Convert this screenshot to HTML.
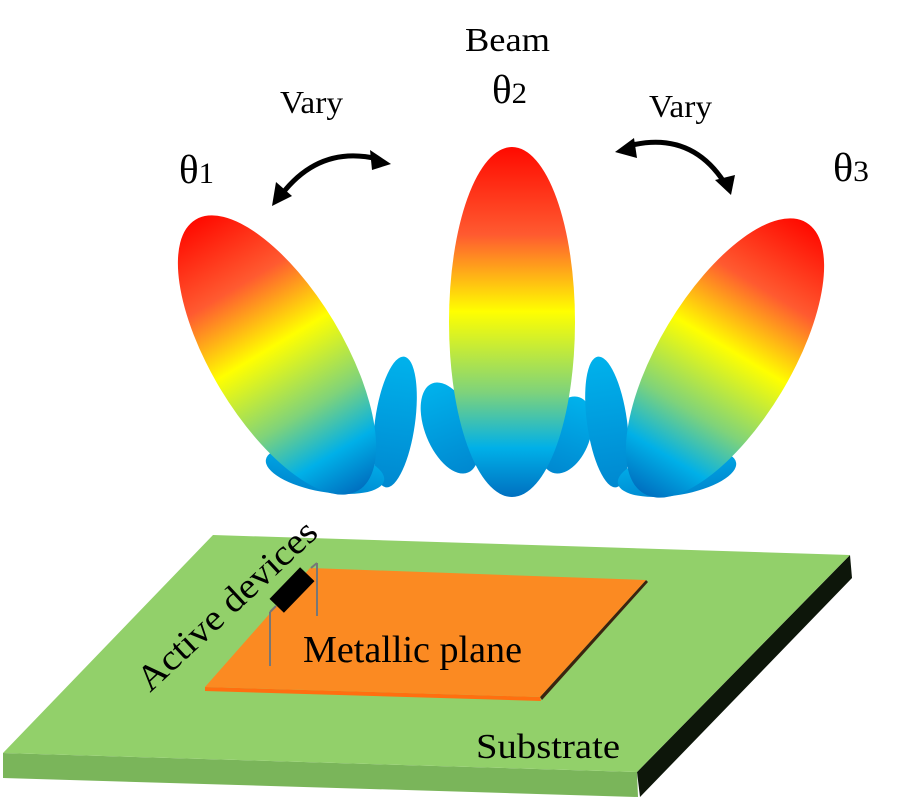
<!DOCTYPE html>
<html><head><meta charset="utf-8"><style>
html,body{margin:0;padding:0;background:#fff}
svg{display:block}
text{font-family:"Liberation Serif",serif;fill:#000}
</style></head><body>
<svg width="900" height="800" viewBox="0 0 900 800" xmlns="http://www.w3.org/2000/svg">
<defs>
<linearGradient id="lobe" x1="0" y1="0" x2="0" y2="1">
<stop offset="0" stop-color="#ff0a00"/>
<stop offset="0.25" stop-color="#ff5a30"/>
<stop offset="0.47" stop-color="#ffff00"/>
<stop offset="0.7" stop-color="#7fd37a"/>
<stop offset="0.86" stop-color="#00b0e8"/>
<stop offset="1" stop-color="#0070c0"/>
</linearGradient>
<linearGradient id="side" x1="0" y1="0" x2="0" y2="1">
<stop offset="0" stop-color="#00b2ec"/>
<stop offset="1" stop-color="#0088d0"/>
</linearGradient>
</defs>

<!-- Left beam -->
<ellipse cx="395" cy="422" rx="20" ry="66" transform="rotate(8 395 422)" fill="url(#side)"/>
<ellipse cx="325" cy="470" rx="60" ry="22" transform="rotate(10 325 470)" fill="url(#side)"/>
<ellipse cx="277" cy="355" rx="66" ry="158" transform="rotate(-31 277 355)" fill="url(#lobe)"/>

<!-- Center beam -->
<ellipse cx="450" cy="428" rx="25" ry="48" transform="rotate(-22 450 428)" fill="url(#side)"/>
<ellipse cx="566" cy="435" rx="24" ry="40" transform="rotate(20 566 435)" fill="url(#side)"/>
<ellipse cx="512" cy="322" rx="63" ry="175" fill="url(#lobe)"/>

<!-- Right beam -->
<ellipse cx="607" cy="422" rx="20" ry="66" transform="rotate(-8 607 422)" fill="url(#side)"/>
<ellipse cx="677" cy="473" rx="60" ry="22" transform="rotate(-10 677 473)" fill="url(#side)"/>
<ellipse cx="725" cy="358" rx="66" ry="158" transform="rotate(31 725 358)" fill="url(#lobe)"/>

<!-- arrows -->
<path d="M282 194 Q320 145 378 159" fill="none" stroke="#000" stroke-width="5"/>
<polygon points="272,206 276,182 292,196" fill="#000"/>
<polygon points="391,164 370,150 372,170" fill="#000"/>
<path d="M628 146 Q690 130 724 182" fill="none" stroke="#000" stroke-width="5"/>
<polygon points="615,152 634,138 637,158" fill="#000"/>
<polygon points="731,195 715,180 735,175" fill="#000"/>

<!-- labels -->
<text x="465" y="51" font-size="34" textLength="85" lengthAdjust="spacingAndGlyphs">Beam</text>
<text x="492" y="103" font-size="40" textLength="35" lengthAdjust="spacingAndGlyphs">θ<tspan font-size="30">2</tspan></text>
<text x="280" y="113" font-size="32" textLength="63" lengthAdjust="spacingAndGlyphs">Vary</text>
<text x="649" y="117" font-size="32" textLength="63" lengthAdjust="spacingAndGlyphs">Vary</text>
<text x="179" y="183" font-size="40" textLength="35" lengthAdjust="spacingAndGlyphs">θ<tspan font-size="30">1</tspan></text>
<text x="833" y="181" font-size="40" textLength="36" lengthAdjust="spacingAndGlyphs">θ<tspan font-size="30">3</tspan></text>

<!-- substrate -->
<polygon points="3,753 637,772 638,797 3,778" fill="#7ab55a"/>
<polygon points="637,772 850,555 852,578 640,797" fill="#0d160a"/>
<polygon points="213,535 850,555 637,772 3,753" fill="#92d06a"/>

<!-- metallic plane -->
<polygon points="205,687 540,697 541,701 205,691" fill="#ff6f10"/>
<polygon points="540,697 646,580 648,582 542,700" fill="#3a2410"/>
<polygon points="310,568 646,580 540,697 205,687" fill="#fb8a22"/>

<!-- wires and device -->
<line x1="270" y1="612" x2="270" y2="666" stroke="#777" stroke-width="2"/>
<line x1="270" y1="612" x2="276" y2="606" stroke="#777" stroke-width="2"/>
<line x1="317" y1="563" x2="317" y2="616" stroke="#777" stroke-width="2"/>
<line x1="311" y1="568" x2="317" y2="563" stroke="#777" stroke-width="2"/>
<rect x="270" y="580" width="44" height="20" transform="rotate(-46 292 590)" fill="#000"/>

<text x="303" y="662" font-size="38" textLength="219" lengthAdjust="spacingAndGlyphs">Metallic plane</text>
<text x="476" y="758" font-size="35" textLength="144" lengthAdjust="spacingAndGlyphs">Substrate</text>
<text x="0" y="0" font-size="36" textLength="232" lengthAdjust="spacingAndGlyphs" transform="translate(150 693) rotate(-43)">Active devices</text>
</svg>
</body></html>
